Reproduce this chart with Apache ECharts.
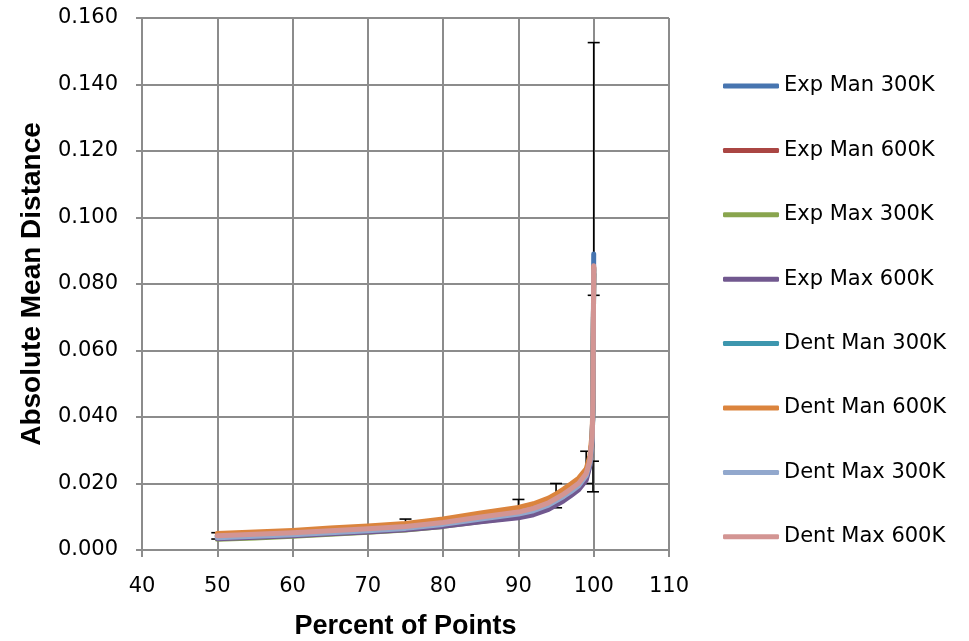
<!DOCTYPE html>
<html>
<head>
<meta charset="utf-8">
<script src="https://cdn.jsdelivr.net/npm/echarts@6/dist/echarts.min.js"></script>
<style>
	html, body { margin: 0; padding: 0; background: #fff; }
	#chart { width: 969px; height: 641px; }
</style>
</head>
<body>
<div id="chart"></div>
<script>
// percent of points (shared x values)
var percents = [50, 55, 60, 65, 70, 75, 80, 85, 90, 92, 94, 95, 96, 97, 98, 99, 99.5, 99.8, 99.9, 100];

var seriesNames = ['Exp Man 300K', 'Exp Man 600K', 'Exp Max 300K', 'Exp Max 600K',
	'Dent Man 300K', 'Dent Man 600K', 'Dent Max 300K', 'Dent Max 600K'];
var seriesColors = ['#4775b0', '#aa4643', '#89a54e', '#71588f', '#3d96ae', '#db843d', '#92a8cd', '#d39593'];

var expMan300 = [.0039, .0043, .0048, .0054, .0060, .0067, .0079, .0094, .0110, .0120, .0137, .0150, .0163, .0178, .0196, .0226, .0266, .0336, .0446, .0890];
var expMan600 = [.0042, .0046, .0051, .0057, .0063, .0070, .0082, .0098, .0113, .0124, .0141, .0154, .0167, .0183, .0200, .0229, .0269, .0339, .0449, .0850];
var expMax300 = [.0032, .0036, .0041, .0047, .0053, .0060, .0071, .0086, .0100, .0111, .0128, .0141, .0154, .0169, .0187, .0216, .0257, .0327, .0440, .0830];
var expMax600 = [.0034, .0038, .0043, .0049, .0054, .0061, .0071, .0085, .0097, .0106, .0122, .0135, .0148, .0164, .0181, .0210, .0253, .0323, .0440, .0830];
var dentMan300 = [.0041, .0045, .0050, .0056, .0062, .0069, .0081, .0097, .0112, .0123, .0140, .0153, .0166, .0182, .0199, .0228, .0268, .0338, .0448, .0845];
var dentMan600 = [.0050, .0054, .0059, .0066, .0072, .0080, .0093, .0111, .0128, .0139, .0156, .0169, .0183, .0199, .0216, .0244, .0284, .0354, .0464, .0850];
var dentMax300 = [.0037, .0041, .0046, .0052, .0058, .0065, .0077, .0093, .0108, .0118, .0135, .0148, .0161, .0176, .0193, .0223, .0264, .0334, .0445, .0840];
var dentMax600 = [.0043, .0047, .0052, .0058, .0064, .0071, .0083, .0099, .0114, .0125, .0142, .0155, .0168, .0184, .0201, .0230, .0270, .0340, .0450, .0855];

var seriesValues = [expMan300, expMan600, expMax300, expMax600, dentMan300, dentMan600, dentMax300, dentMax600];

// error bars: [percent, low, high]
var errX = [50, 75, 90, 95, 99, 99.9, 100];
var errLow = [.0033, .0066, .0096, .0127, .0200, .0175, .0766];
var errHigh = [.0052, .0093, .0152, .0200, .0297, .0267, .1526];

var xTicks = { min: 40, max: 110, step: 10 };
var yTicks = { min: 0, max: 0.16, step: 0.02 };

function renderErrorBar(params, api) {
	var x = api.value(0);
	var top = api.coord([x, api.value(2)]);
	var bot = api.coord([x, api.value(1)]);
	var w = 6;
	var st = { stroke: '#000', lineWidth: 1.6 };
	return {
		type: 'group',
		children: [
			{ type: 'line', shape: { x1: top[0], y1: top[1], x2: bot[0], y2: bot[1] }, style: st },
			{ type: 'line', shape: { x1: top[0] - w, y1: top[1], x2: top[0] + w, y2: top[1] }, style: st },
			{ type: 'line', shape: { x1: bot[0] - w, y1: bot[1], x2: bot[0] + w, y2: bot[1] }, style: st }
		]
	};
}

var chart = echarts.init(document.getElementById('chart'), null, { renderer: 'canvas' });

var series = [];
var errData = [];
for (var i = 0; i < errX.length; i++) {
	errData.push([errX[i], errLow[i], errHigh[i]]);
}
series.push({
	name: 'errors',
	type: 'custom',
	renderItem: renderErrorBar,
	data: errData,
	encode: { x: 0, y: [1, 2] },
	z: 1,
	silent: true
});
for (var s = 0; s < seriesNames.length; s++) {
	var pts = [];
	for (var j = 0; j < percents.length; j++) {
		pts.push([percents[j], seriesValues[s][j]]);
	}
	series.push({
		name: seriesNames[s],
		type: 'line',
		data: pts,
		showSymbol: false,
		symbol: 'none',
		smooth: false,
		z: 2 + s,
		lineStyle: { width: 5, color: seriesColors[s], cap: 'round', join: 'round' },
		itemStyle: { color: seriesColors[s] }
	});
}

var gridColor = '#8c8c8c';
var option = {
	animation: false,
	backgroundColor: '#fff',
	grid: { left: 142, right: 300, top: 18, bottom: 91, containLabel: false, outerBoundsMode: 'none' },
	legend: {
		orient: 'vertical',
		left: 723,
		top: 73,
		padding: 0,
		data: seriesNames,
		icon: 'roundRect',
		itemWidth: 56,
		itemHeight: 5,
		itemGap: 38.4,
		textStyle: { fontFamily: 'DejaVu Sans', fontSize: 21, color: '#000', lineHeight: 26 }
	},
	xAxis: {
		type: 'value',
		min: xTicks.min,
		max: xTicks.max,
		interval: xTicks.step,
		name: 'Percent of Points',
		nameLocation: 'middle',
		nameGap: 63,
		nameTextStyle: { fontFamily: 'Liberation Sans', fontWeight: 'bold', fontSize: 27, color: '#000' },
		axisLine: { lineStyle: { color: gridColor, width: 2 } },
		axisTick: { show: true, length: 7, lineStyle: { color: gridColor, width: 2 } },
		axisLabel: { margin: 26, fontFamily: 'DejaVu Sans', fontSize: 21, color: '#000' },
		splitLine: { show: true, lineStyle: { color: gridColor, width: 2 } }
	},
	yAxis: {
		type: 'value',
		min: yTicks.min,
		max: yTicks.max,
		interval: yTicks.step,
		name: 'Absolute Mean Distance',
		nameLocation: 'middle',
		nameGap: 96,
		nameTextStyle: { fontFamily: 'Liberation Sans', fontWeight: 'bold', fontSize: 28, color: '#000' },
		axisLine: { show: true, lineStyle: { color: gridColor, width: 2 } },
		axisTick: { show: true, length: 6, lineStyle: { color: gridColor, width: 2 } },
		axisLabel: {
			margin: 24,
			fontFamily: 'DejaVu Sans',
			fontSize: 21,
			color: '#000',
			formatter: function (v) { return v.toFixed(3); }
		},
		splitLine: { show: true, lineStyle: { color: gridColor, width: 2 } }
	},
	series: series
};

chart.setOption(option, true);
</script>
</body>
</html>
